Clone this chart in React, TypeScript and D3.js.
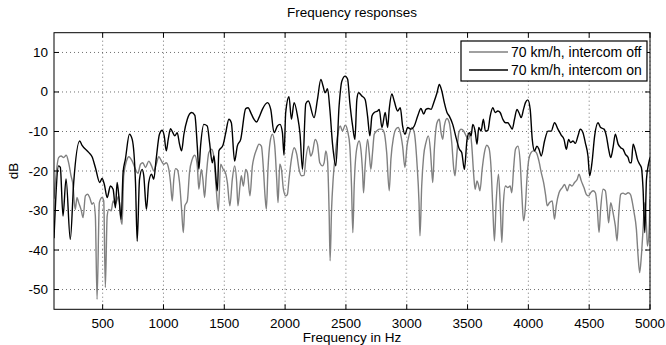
import React from "react";
import * as d3 from "d3";

const onHz = [100,138,152,174,199,234,262,311,331,385,413,440,476,495,514,537,564,586,605,619,638,652,668,687,720,743,770,784,803,825,838,860,879,902,920,940,967,990,1006,1023,1039,1058,1077,1093,1113,1132,1149,1168,1196,1231,1258,1278,1291,1305,1332,1360,1379,1401,1415,1443,1456,1489,1511,1538,1558,1585,1607,1635,1676,1695,1723,1744,1766,1785,1813,1855,1882,1909,1937,1958,1978,1991,2005,2032,2052,2074,2102,2123,2143,2170,2191,2238,2266,2294,2312,2329,2349,2368,2390,2417,2444,2467,2494,2514,2532,2555,2574,2590,2604,2631,2658,2678,2697,2714,2733,2761,2774,2796,2823,2843,2856,2878,2897,2925,2947,2966,2985,3008,3035,3062,3090,3117,3139,3158,3177,3200,3222,3249,3268,3288,3309,3331,3350,3378,3406,3433,3452,3474,3496,3515,3529,3543,3562,3578,3592,3611,3630,3647,3667,3686,3708,3727,3749,3768,3790,3812,3831,3850,3867,3886,3906,3922,3941,3960,3976,3996,4015,4032,4051,4070,4087,4106,4133,4161,4188,4215,4243,4270,4293,4312,4331,4347,4367,4386,4408,4427,4449,4468,4490,4504,4523,4545,4573,4594,4622,4641,4660,4677,4696,4715,4738,4759,4779,4798,4820,4833,4847,4861,4880,4896,4915,4929,4943,4957,4971,4990,5000];
const onDb = [-37,-18.7,-19.1,-31.4,-22,-37.3,-22.9,-12.4,-13.5,-15.3,-16.4,-19.1,-22.9,-21.9,-23.4,-26.7,-23.8,-24.6,-29.3,-22.9,-28,-32.2,-20.4,-17,-10.7,-12,-22.9,-37.8,-22.1,-19.6,-21.2,-29.7,-22.9,-20.8,-22.1,-17,-10.7,-9.7,-11.1,-14.9,-12,-9.3,-10.3,-11.1,-10.3,-13.2,-14.9,-10.7,-6.9,-5.2,-5.9,-13.7,-19.6,-13.7,-8.2,-8.6,-12.8,-17.9,-16.2,-25,-14.9,-13.5,-10.5,-6.9,-7.8,-17.5,-13.7,-12,-4.2,-4,-5.6,-6.9,-7.6,-6.5,-4.4,-2.7,-4.4,-10.3,-8.6,-8.2,-10.3,-16,-5.2,-1.2,-6.9,-2.7,-6.1,-10.7,-19.6,-3,-2.3,-6.5,-1.9,3.2,1.5,-0.2,0.8,-4.4,-13.2,-18.7,-3.5,2.8,4,3.2,-2.7,-8.6,-12,-1.9,-0.2,-1,-1.9,-6.1,-11.1,-6.1,-5.2,-4.8,-4.4,-9,-5.2,-9,-4.4,-0.5,-2.3,-4.8,-4,-8.6,-10.7,-9,-9.4,-8.6,-6.1,-4.2,-5.6,-4.4,-4.2,-4.4,-2.7,-0.2,1.9,0.3,-2.7,-5.2,-6.1,-8.2,-11.6,-14.5,-15.3,-19.6,-12,-10.3,-11.1,-8.2,-9.9,-13.2,-9,-9.9,-6.9,-9.9,-9.7,-6.1,-4,-5.2,-4.8,-5.2,-6.9,-7.8,-7.8,-8.6,-9.4,-6.9,-4.4,-5.2,-6.5,-4.4,-2.7,-2,-4.4,-12,-14.9,-13.7,-14.5,-16.2,-12.4,-9.9,-9.9,-7.8,-9.4,-10.9,-12,-14.5,-12,-12.8,-12.4,-13,-11.1,-9.4,-10.3,-12.8,-16.2,-21.2,-17.9,-11.1,-7.8,-9,-9.4,-11.1,-14.5,-16.6,-14.1,-10.7,-13.2,-14.1,-14.5,-15.8,-16.6,-17.9,-17.9,-13.2,-14.9,-17,-18.3,-19.1,-24.6,-35.6,-22.1,-17.9,-16.6];

const offHz = [100,138,158,179,201,220,240,257,267,275,289,303,322,339,358,377,393,413,426,440,454,473,495,509,522,537,550,570,586,605,619,632,646,660,673,696,715,743,770,790,811,830,852,879,902,920,940,962,984,1003,1023,1044,1058,1072,1085,1099,1113,1132,1149,1163,1176,1196,1214,1237,1258,1278,1291,1311,1324,1338,1352,1373,1396,1415,1434,1451,1470,1490,1511,1525,1546,1566,1585,1602,1612,1629,1640,1657,1676,1690,1711,1731,1744,1766,1785,1805,1822,1835,1846,1859,1876,1896,1915,1931,1942,1956,1970,1986,2005,2019,2032,2052,2074,2096,2115,2135,2156,2170,2192,2211,2225,2247,2266,2285,2308,2321,2335,2349,2362,2370,2382,2395,2411,2431,2453,2472,2494,2514,2532,2546,2557,2568,2588,2609,2623,2637,2645,2658,2678,2691,2705,2719,2733,2752,2774,2796,2815,2835,2856,2870,2891,2911,2930,2947,2966,2985,3002,3021,3041,3062,3084,3101,3109,3123,3139,3158,3177,3194,3205,3214,3227,3249,3268,3282,3296,3309,3331,3350,3370,3387,3397,3411,3428,3447,3469,3488,3507,3523,3535,3551,3562,3578,3589,3602,3620,3639,3658,3675,3694,3708,3721,3735,3754,3768,3782,3795,3812,3831,3850,3864,3878,3894,3914,3933,3947,3960,3974,3988,4004,4023,4042,4065,4087,4106,4125,4141,4155,4174,4196,4215,4229,4252,4279,4298,4320,4339,4359,4380,4402,4416,4435,4457,4476,4495,4512,4532,4551,4567,4581,4594,4614,4633,4647,4660,4677,4696,4715,4729,4742,4759,4779,4798,4820,4839,4853,4869,4888,4902,4915,4929,4943,4957,4971,4979,4993,5000];
const offDb = [-27,-16.6,-16.2,-16.6,-16,-17.9,-21.2,-23.8,-28,-29.7,-26.7,-28,-29.7,-31.8,-26.3,-25.9,-26.7,-28.4,-28,-31.4,-52.5,-28,-26.7,-27.6,-49.5,-31.4,-29.7,-30.1,-27.6,-28.4,-27.2,-26.3,-31.4,-33.5,-21.2,-17.5,-16.4,-17.5,-19.6,-20.6,-18.3,-17.9,-19.1,-17.5,-18.7,-20,-18.3,-16.4,-17.5,-18.3,-17.9,-19.6,-22.9,-27.6,-22.1,-19.4,-19.6,-22.9,-29.7,-35.6,-28.8,-27.6,-20.4,-17,-16,-18.7,-24.6,-19.6,-22.1,-26.7,-21.2,-15.3,-14.5,-16.6,-24.6,-30.1,-18.3,-19.5,-20.6,-22.9,-28.8,-22.1,-18.7,-22.9,-28.8,-23.8,-21.2,-23.8,-19.6,-20.4,-26.3,-18.7,-16.6,-14.5,-13.2,-13.7,-19.6,-26.3,-29.7,-19.6,-12.8,-10.7,-13.7,-22.1,-28,-18.3,-19.6,-24.6,-26.3,-25.9,-22.1,-17,-14.1,-15.8,-19.6,-21.2,-21.1,-17,-13.7,-16.2,-15.3,-12,-13.2,-17.9,-18.7,-17.9,-14.9,-17.5,-30.5,-42.7,-29.7,-22.1,-16.2,-11.1,-8.6,-9.9,-8.4,-9.9,-13.7,-23.8,-35.6,-23.8,-14.5,-12.4,-14.5,-20.4,-25.5,-18.7,-12,-15.3,-19.6,-15.3,-10.7,-9.9,-9.4,-9.4,-10.3,-15.3,-25,-17,-11.5,-9.4,-9,-10.3,-13.7,-19.1,-13.7,-10.7,-9,-10.3,-17.9,-28,-36.4,-23.8,-16.2,-12.8,-11.1,-14.5,-19.6,-22.9,-14.5,-7.8,-6.9,-10.3,-12,-8.6,-6.7,-7.8,-12.8,-19.6,-21.2,-16.2,-10.3,-9.4,-9.9,-11.1,-12,-10.3,-13.7,-21.2,-24.6,-22.5,-23.4,-25,-19.6,-15.3,-13.5,-14.1,-19.6,-29.7,-37.7,-28,-20.8,-28,-38.1,-28,-23.8,-24.2,-23.8,-25.5,-19.6,-14.5,-13.7,-17.9,-26.3,-32.6,-29.7,-22.1,-17,-15.3,-14.9,-15.3,-17.5,-20.4,-22.9,-25.9,-28.8,-28,-27.6,-32.2,-28.8,-25.5,-24.2,-23.4,-25,-23.4,-23.8,-22.9,-22.1,-20.8,-22.5,-24.2,-25.9,-26.3,-25.5,-25,-25.5,-29.7,-35.6,-29.7,-24.6,-25,-28.8,-33.1,-28,-30.5,-33.9,-37.7,-31.4,-25.9,-25.6,-25.9,-25.5,-25.9,-27.6,-30.5,-34.7,-41.5,-45.7,-41.5,-34.7,-28,-33.9,-39,-34.7,-27];

const xTicks = [500,1000,1500,2000,2500,3000,3500,4000,4500,5000];
const yTicks = [-50,-40,-30,-20,-10,0,10];
const seriesNames = ["70 km/h, intercom off", "70 km/h, intercom on"];
const seriesColors = ["#808080", "#000000"];

const W = 666, H = 345;
const L = 54, R = 650, T = 32.7, B = 309.3;
const FONT = "'Liberation Sans', Arial, Helvetica, sans-serif";

export default function App() {
  const x = d3.scaleLinear().domain([100, 5000]).range([L, R]);
  const y = d3.scaleLinear().domain([-55, 15]).range([B, T]);
  const line = d3.line<[number, number]>().x(d => x(d[0])).y(d => y(d[1])).curve(d3.curveMonotoneX);
  const off: [number, number][] = offHz.map((f, i) => [f, offDb[i]]);
  const on: [number, number][] = onHz.map((f, i) => [f, onDb[i]]);
  const tl = 5;
  return (
    <svg width={W} height={H} style={{ position: "absolute", left: 0, top: 0, background: "#fff" }} fontFamily={FONT}>
      <rect x={0} y={0} width={W} height={H} fill="#fff" />
      <defs>
        <clipPath id="plot"><rect x={L} y={T} width={R - L} height={B - T} /></clipPath>
      </defs>
      {xTicks.map(t => (
        <line key={"gx" + t} x1={x(t)} x2={x(t)} y1={T} y2={B} stroke="#333" strokeWidth={0.7} strokeDasharray="1,3" />
      ))}
      {yTicks.map(t => (
        <line key={"gy" + t} x1={L} x2={R} y1={y(t)} y2={y(t)} stroke="#333" strokeWidth={0.7} strokeDasharray="1,3" />
      ))}
      <g clipPath="url(#plot)">
        <path d={line(off) || ""} fill="none" stroke={seriesColors[0]} strokeWidth={1.4} strokeLinejoin="round" />
        <path d={line(on) || ""} fill="none" stroke={seriesColors[1]} strokeWidth={1.4} strokeLinejoin="round" />
      </g>
      {xTicks.map(t => (
        <g key={"tx" + t}>
          <line x1={x(t)} x2={x(t)} y1={B} y2={B - tl} stroke="#000" />
          <line x1={x(t)} x2={x(t)} y1={T} y2={T + tl} stroke="#000" />
          <text x={x(t)} y={328} textAnchor="middle" fontSize={13.5}>{t}</text>
        </g>
      ))}
      {yTicks.map(t => (
        <g key={"ty" + t}>
          <line x1={L} x2={L + tl} y1={y(t)} y2={y(t)} stroke="#000" />
          <line x1={R} x2={R - tl} y1={y(t)} y2={y(t)} stroke="#000" />
          <text x={48} y={y(t) + 4.5} textAnchor="end" fontSize={13.5}>{t}</text>
        </g>
      ))}
      <rect x={L} y={T} width={R - L} height={B - T} fill="none" stroke="#000" strokeWidth={1} />
      <text x={(L + R) / 2} y={17} textAnchor="middle" fontSize={13.5}>Frequency responses</text>
      <text x={(L + R) / 2} y={342} textAnchor="middle" fontSize={13.5}>Frequency in Hz</text>
      <text transform={`translate(18,${(T + B) / 2}) rotate(-90)`} textAnchor="middle" fontSize={13.5}>dB</text>
      <g>
        <rect x={461} y={41} width={186} height={40} fill="#fff" stroke="#000" strokeWidth={1.2} />
        {seriesNames.map((n, i) => (
          <g key={n}>
            <line x1={469} x2={508} y1={52 + i * 18} y2={52 + i * 18} stroke={seriesColors[i]} strokeWidth={1.4} />
            <text x={511} y={52 + i * 18 + 5} fontSize={14}>{n}</text>
          </g>
        ))}
      </g>
    </svg>
  );
}
